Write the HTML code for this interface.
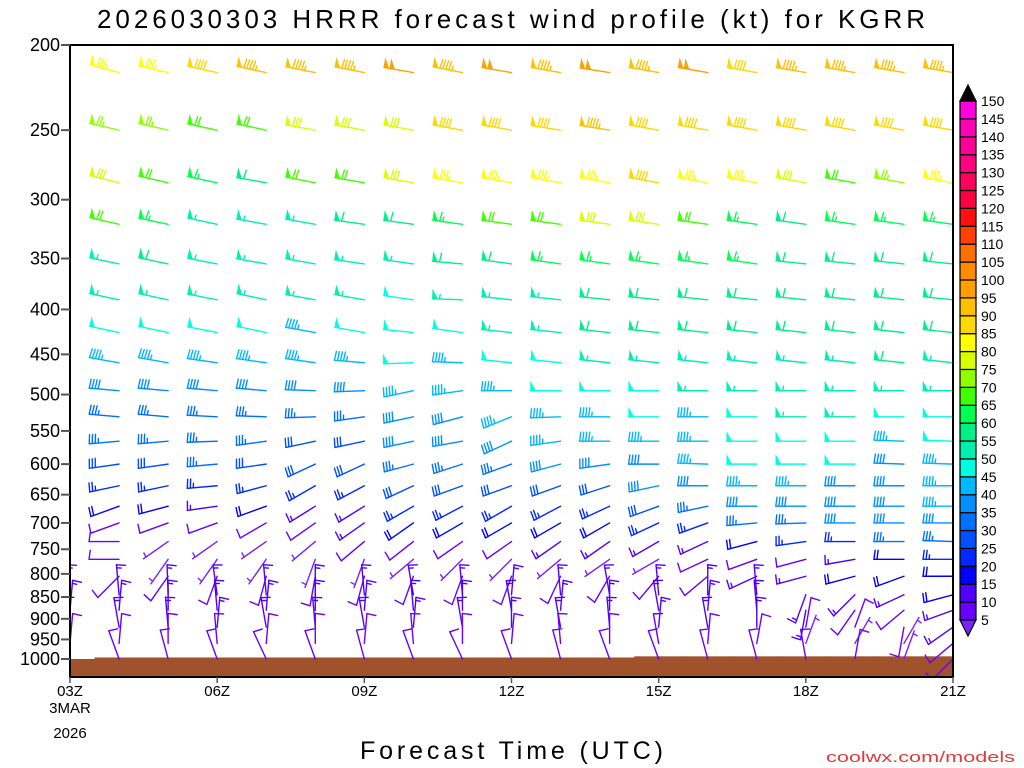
<!DOCTYPE html>
<html><head><meta charset="utf-8"><style>
html,body{margin:0;padding:0;background:#fff;}
svg{display:block;font-family:"Liberation Sans",sans-serif;}
</style></head><body>
<svg id="chart" width="1024" height="768" viewBox="0 0 1024 768" xmlns="http://www.w3.org/2000/svg">
<text x="97" y="28" font-size="26" textLength="828" lengthAdjust="spacing">2026030303 HRRR forecast wind profile (kt) for KGRR</text>
<defs><clipPath id="plotclip"><rect x="70" y="45" width="883" height="632"/></clipPath></defs>
<g id="ground"></g>
<g id="barbs" clip-path="url(#plotclip)"></g>
<rect x="70" y="45" width="883" height="632" fill="none" stroke="#000" stroke-width="2"/>
<g id="yaxis"></g>
<g id="xaxis"></g>
<g id="cbar"></g>
<text x="360" y="759" font-size="25" textLength="303" lengthAdjust="spacing">Forecast Time (UTC)</text>
<text x="826" y="762" font-size="15" fill="#e03a3a" textLength="189" lengthAdjust="spacingAndGlyphs">coolwx.com/models</text>
</svg>
<script>
const hours = [3,4,5,6,7,8,9,10,11,12,13,14,15,16,17,18,19,20,21];
const levels = [215,250,287,320,355,390,425,460,495,530,565,600,635,670,700,735,770,805,845,880,920,960,1000];
const yTicks = [200,250,300,350,400,450,500,550,600,650,700,750,800,850,900,950,1000];
const xTickHours = [3,6,9,12,15,18,21];
const xTickLabels = ["03Z","06Z","09Z","12Z","15Z","18Z","21Z"];
const cbarLevels = [5,10,15,20,25,30,35,40,45,50,55,60,65,70,75,80,85,90,95,100,105,110,115,120,125,130,135,140,145,150];
const cbarColors = ["#7a22ff","#6a00ff","#5000ff","#0000ff","#0028ff","#0050ff","#0070ff","#0090ff","#00b8ff","#00ffe0","#00f0b0","#00f088","#00ff50","#40ff00","#90ff00","#d8ff00","#ffff00","#ffd800","#ffc000","#ffa000","#ff8c00","#ff7000","#ff4000","#ff1010","#ff0040","#ff0060","#ff0080","#ff0098","#ff00b8","#ff00e0","#000000"];
const speedRows = [
[85,85,85,90,95,95,95,100,95,100,95,100,95,100,90,95,95,95,95],
[75,75,75,70,70,80,80,80,90,90,90,95,90,90,90,90,90,90,90],
[80,80,70,65,60,70,70,80,85,85,85,85,90,85,85,80,70,75,85],
[70,70,65,55,55,55,60,60,65,70,70,80,80,70,65,60,65,65,65],
[55,55,60,55,55,55,55,55,60,60,65,65,65,65,65,60,60,60,60],
[55,55,55,55,55,55,55,50,55,55,55,60,60,60,60,60,60,60,60],
[50,50,50,50,50,45,50,50,50,55,55,60,60,60,60,60,60,60,60],
[45,45,45,45,45,45,45,50,45,50,50,55,55,55,55,55,55,60,55],
[40,40,40,40,40,40,40,45,45,45,50,50,50,55,55,55,55,55,55],
[35,35,35,35,35,35,35,40,40,45,45,45,50,45,50,55,55,50,50],
[35,35,35,35,35,30,30,40,40,40,45,45,45,45,50,50,50,45,50],
[30,30,30,35,30,30,30,35,35,35,40,40,40,45,50,50,50,40,45],
[25,25,25,25,25,25,25,30,30,30,30,30,40,40,45,45,40,40,45],
[20,20,20,15,20,15,15,25,25,25,25,25,30,35,40,40,40,40,45],
[10,10,10,10,10,10,15,20,20,20,20,20,25,25,35,35,40,40,40],
[10,10,5,5,5,5,10,10,10,10,15,15,15,15,20,25,25,35,35],
[10,10,5,5,5,5,5,5,5,5,5,5,5,10,10,10,15,20,25],
[10,10,10,10,10,10,10,10,10,10,10,10,10,10,15,15,20,20,20],
[15,15,15,15,15,15,15,15,15,15,15,15,15,15,15,15,15,15,20],
[15,15,15,15,15,15,15,15,15,15,15,15,15,15,15,15,10,10,15],
[15,15,15,15,15,15,15,15,15,15,15,15,15,15,15,10,10,10,15],
[10,10,10,10,10,10,10,10,10,10,10,10,10,10,10,5,5,5,10],
[10,10,10,10,10,10,10,10,10,10,10,10,10,10,10,10,10,5,10]
];
const dirRows = [
[284,285,283,282,282,281,281,280,281,280,280,279,280,280,280,280,280,280,280],
[283,283,283,282,282,280,280,280,280,280,279,279,280,280,280,280,280,280,280],
[284,284,283,282,280,281,280,280,280,280,280,280,280,280,280,280,280,280,280],
[283,283,282,282,280,280,278,278,278,278,278,278,278,278,278,278,278,278,278],
[282,282,282,281,280,280,278,278,275,278,278,278,278,278,278,276,276,276,276],
[282,282,282,281,282,280,280,278,272,276,276,276,276,276,276,276,276,276,276],
[282,282,282,281,282,280,280,276,278,276,276,276,276,276,276,276,276,276,276],
[280,280,280,278,278,278,275,268,272,276,276,276,276,276,276,276,276,276,276],
[275,275,275,275,275,272,268,258,262,270,270,270,270,270,270,270,270,270,270],
[275,275,275,273,272,268,262,258,255,248,268,270,270,270,270,270,270,270,270],
[265,265,265,268,262,258,258,258,260,245,262,270,270,270,270,270,270,272,272],
[262,262,262,265,262,245,245,255,252,250,255,262,270,272,270,270,270,272,272],
[258,258,258,265,255,240,242,245,250,250,250,252,258,270,270,270,270,270,270],
[250,250,255,262,250,238,238,240,242,240,242,245,250,258,270,270,270,270,270],
[250,250,250,250,240,235,235,235,240,240,240,240,245,250,265,268,270,270,270],
[270,270,235,235,235,230,230,232,235,235,235,235,240,245,255,262,270,270,272],
[270,270,215,215,215,200,200,230,225,225,230,235,240,245,250,255,260,270,270],
[225,225,215,200,195,190,195,200,200,200,205,210,220,230,245,255,255,250,270],
[355,355,358,352,355,0,355,350,355,5,355,350,355,0,355,200,225,245,255],
[5,5,0,355,5,0,5,355,0,350,5,0,350,5,355,190,215,230,250],
[350,350,355,5,350,355,350,5,350,0,350,355,5,350,0,10,20,190,235],
[5,5,0,355,5,0,5,355,0,5,355,0,350,5,10,20,30,30,230],
[340,340,345,340,335,340,345,340,335,340,345,340,340,345,345,350,10,20,225]
];
const groundPressure = [1000,996,996,996,996,996,996,996,996,996,996,996,993,993,993,993,993,993,993];

const NS="http://www.w3.org/2000/svg";
const X0=70, X1=953, Y0=45, Y1=677;
function xScale(h){ return X0 + (h-3)*(X1-X0)/18; }
function yScale(p){ return Y0 + 381.5*Math.log(p/200); }
function colorFor(s){ for(let i=0;i<cbarLevels.length;i++){ if(s<cbarLevels[i]) return cbarColors[i]; } return cbarColors[cbarColors.length-1]; }
function mk(tag, attrs, parent){ const e=document.createElementNS(NS,tag); for(const k in attrs) e.setAttribute(k,attrs[k]); parent.appendChild(e); return e; }

// ground
const gG=document.getElementById('ground');
for(let i=0;i<hours.length;i++){
  const xa = i===0 ? X0 : xScale(hours[i])-24.5;
  const xb = i===hours.length-1 ? X1 : xScale(hours[i])+24.5;
  const r=mk('rect',{x:xa,y:yScale(groundPressure[i]),width:xb-xa+0.5,height:Y1-yScale(groundPressure[i]),fill:'#a0522d'},gG);
  
  
}

// barbs
const gB=document.getElementById('barbs');
function drawBarb(cx,cy,spd,dir,parent){
  const col=colorFor(spd-2);
  const g=mk('g',{stroke:col,fill:col,'stroke-width':1.4,'stroke-linecap':'round'},parent);
  
  
  const L=30, bl=9, lean=1.2, a=dir*Math.PI/180;
  const ux=Math.sin(a), uy=-Math.cos(a);
  const px=-uy, py=ux;
  const tx=cx+ux*L, ty=cy+uy*L;
  mk('line',{x1:cx,y1:cy,x2:tx,y2:ty},g);
  let s=Math.round(spd/5)*5, pos=0;
  while(s>=50){
    const bx=tx-ux*pos, by=ty-uy*pos;
    mk('polygon',{points:`${bx},${by} ${bx+px*bl},${by+py*bl} ${bx-ux*5},${by-uy*5}`,'stroke-width':0.6},g);
    pos+=6; s-=50;
  }
  if(pos>0) pos+=1;
  while(s>=10){
    const bx=tx-ux*pos, by=ty-uy*pos;
    mk('line',{x1:bx,y1:by,x2:bx+px*bl-ux*lean,y2:by+py*bl-uy*lean},g);
    pos+=3; s-=10;
  }
  if(s>=5){
    if(pos===0) pos=3;
    const bx=tx-ux*pos, by=ty-uy*pos;
    mk('line',{x1:bx,y1:by,x2:bx+px*bl*0.5-ux*lean*0.5,y2:by+py*bl*0.5-uy*lean*0.5},g);
  }
}
for(let r=0;r<levels.length;r++){
  for(let c=0;c<hours.length;c++){
    drawBarb(xScale(hours[c]), yScale(levels[r]), speedRows[r][c], dirRows[r][c], gB);
  }
}

// y axis
const gY=document.getElementById('yaxis');
yTicks.forEach(p=>{
  const y=yScale(p);
  const t=mk('line',{x1:61,y1:y,x2:70,y2:y,stroke:'#555','stroke-width':2},gY);
  
  
  const l=mk('text',{x:60,y:y+6,'font-size':18,'text-anchor':'end'},gY);
  l.textContent=p;
  
  
});

// x axis
const gX=document.getElementById('xaxis');
xTickHours.forEach((h,i)=>{
  const x=xScale(h);
  const t=mk('line',{x1:x,y1:Y1,x2:x,y2:Y1+6,stroke:'#555','stroke-width':1.5},gX);
  
  
  const l=mk('text',{x:x,y:696,'font-size':15,'text-anchor':'middle'},gX);
  l.textContent=xTickLabels[i];
  
  
});
const d1=mk('text',{x:X0,y:713,'font-size':15,'text-anchor':'middle'},gX);
d1.textContent='3MAR';


const d2=mk('text',{x:X0,y:738,'font-size':15,'text-anchor':'middle'},gX);
d2.textContent='2026';



// colorbar
const gC=document.getElementById('cbar');
const cbTop=101, cbBot=620, cbX=960, cbW=16;
const step=(cbBot-cbTop)/(cbarLevels.length-1);
for(let i=0;i<cbarLevels.length-1;i++){
  const y=cbBot-(i+1)*step;
  const r=mk('rect',{x:cbX,y:y,width:cbW,height:step,fill:cbarColors[i+1],stroke:'#000','stroke-width':1.2},gC);
  
  
}
const triB=mk('polygon',{points:`${cbX},${cbBot} ${cbX+cbW},${cbBot} ${cbX+cbW/2},${cbBot+16}`,fill:cbarColors[0],stroke:'#000','stroke-width':1.2},gC);


const triT=mk('polygon',{points:`${cbX},${cbTop} ${cbX+cbW},${cbTop} ${cbX+cbW/2},${cbTop-16}`,fill:cbarColors[cbarColors.length-1],stroke:'#000','stroke-width':1.2},gC);


cbarLevels.forEach((v,i)=>{
  const y=cbBot-i*step;
  const l=mk('text',{x:981,y:y+5,'font-size':14},gC);
  l.textContent=v;
  
  
});
</script>
</body></html>
